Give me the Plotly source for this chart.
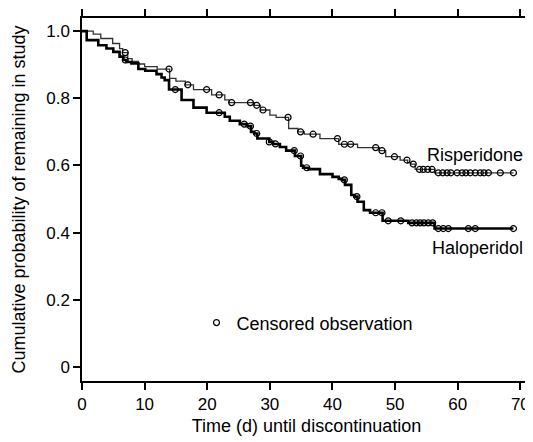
import numpy as np
import plotly.graph_objects as go

# Risperidone (thin) step curve: event times (d) and survival after each step
ris_times = [0, 1.8, 3.0, 4.9, 6.0, 6.5, 7.3, 8.0, 9.0, 10.0, 12.0, 14.0, 15.0, 16.5, 17.8,
             20.7, 22.8, 23.5, 27.5, 28.5, 30.0, 31.0, 33.0, 34.5, 35.5, 38.0, 41.0, 44.0,
             47.5, 48.5, 50.8, 52.0, 52.5, 53.2, 56.3]
ris_surv = [1.0, 0.991, 0.978, 0.963, 0.948, 0.936, 0.918, 0.910, 0.902, 0.894, 0.887, 0.859,
            0.851, 0.840, 0.826, 0.810, 0.795, 0.787, 0.779, 0.765, 0.750, 0.743, 0.710, 0.700,
            0.693, 0.680, 0.663, 0.653, 0.644, 0.626, 0.616, 0.608, 0.604, 0.588, 0.578]
ris_end = 68.9
ris_censored = [6.9, 13.9, 16.9, 19.9, 21.9, 23.9, 26.9, 27.9, 28.9, 32.9, 34.9, 36.9, 40.8,
                41.9, 42.9, 46.9, 47.9, 49.9, 51.9, 52.9, 53.9, 54.5, 55.2, 55.9, 56.9, 57.6,
                58.3, 58.9, 59.9, 60.7, 61.3, 62.0, 62.8, 63.6, 64.2, 64.9, 66.8, 68.9]

# Haloperidol (thick) step curve
hal_times = [0, 0.75, 2.6, 3.9, 5.0, 6.0, 6.6, 7.1, 7.9, 9.0, 10.1, 11.9, 12.7, 13.2, 13.9,
             15.9, 17.8, 19.9, 22.8, 23.6, 25.2, 26.3, 27.0, 27.5, 28.0, 29.9, 30.5, 31.6,
             32.6, 34.0, 35.0, 35.3, 36.2, 38.0, 40.0, 41.0, 41.5, 42.0, 43.0, 43.5, 44.0,
             45.0, 46.0, 48.0, 52.1, 56.3]
hal_surv = [1.0, 0.973, 0.958, 0.948, 0.938, 0.924, 0.914, 0.908, 0.904, 0.887, 0.882, 0.872,
            0.862, 0.854, 0.826, 0.795, 0.772, 0.757, 0.745, 0.733, 0.723, 0.717, 0.700, 0.695,
            0.680, 0.670, 0.664, 0.655, 0.644, 0.628, 0.599, 0.593, 0.589, 0.574, 0.566, 0.560,
            0.557, 0.542, 0.512, 0.507, 0.492, 0.467, 0.459, 0.435, 0.429, 0.412]
hal_end = 68.9
hal_censored = [6.9, 14.9, 21.9, 25.9, 26.9, 27.9, 29.9, 30.9, 33.9, 34.9, 35.9, 41.9, 43.9,
                46.9, 47.9, 48.9, 50.9, 52.7, 53.4, 54.0, 54.6, 55.3, 56.0, 56.9, 57.7, 58.5,
                61.7, 62.8, 68.9]

x_ticks = [0, 10, 20, 30, 40, 50, 60, 70]
y_ticks = [0, 0.2, 0.4, 0.6, 0.8, 1.0]
y_tick_labels = ["0", "0.2", "0.4", "0.6", "0.8", "1.0"]


def step_at(times, surv, t):
    idx = np.searchsorted(np.array(times), np.array(t), side="right") - 1
    return np.array(surv)[idx]


FONT = "Liberation Sans, Arial, Helvetica, sans-serif"
fig = go.Figure()

fig.add_trace(go.Scatter(x=ris_times + [ris_end], y=ris_surv + [ris_surv[-1]], mode="lines",
                         line=dict(shape="hv", color="#333333", width=1.3), showlegend=False))
fig.add_trace(go.Scatter(x=hal_times + [hal_end], y=hal_surv + [hal_surv[-1]], mode="lines",
                         line=dict(shape="hv", color="black", width=2.6), showlegend=False))
fig.add_trace(go.Scatter(x=ris_censored, y=step_at(ris_times, ris_surv, ris_censored), mode="markers",
                         marker=dict(symbol="circle-open", size=6, color="black", line=dict(width=1.2)),
                         name="Censored observation", showlegend=True))
fig.add_trace(go.Scatter(x=hal_censored, y=step_at(hal_times, hal_surv, hal_censored), mode="markers",
                         marker=dict(symbol="circle-open", size=6, color="black", line=dict(width=1.2)),
                         showlegend=False))

fig.add_annotation(x=70.8, y=0.631, xref="x", yref="y", text="Risperidone", showarrow=False,
                   xanchor="right", yanchor="middle", font=dict(size=18, color="black", family=FONT))
fig.add_annotation(x=70.8, y=0.354, xref="x", yref="y", text="Haloperidol", showarrow=False,
                   xanchor="right", yanchor="middle", font=dict(size=18, color="black", family=FONT))

axis_common = dict(showline=True, linecolor="black", linewidth=1.5, mirror="ticks", ticks="outside",
                   ticklen=7, tickwidth=1.5, tickcolor="black", showgrid=False, zeroline=False,
                   automargin=False, tickfont=dict(size=17, color="black", family=FONT))

fig.update_xaxes(range=[0, 71.7], tickvals=x_ticks,
                 title=dict(text="Time (d) until discontinuation", font=dict(size=18, color="black", family=FONT),
                            standoff=6), **axis_common)
fig.update_yaxes(range=[-0.042, 1.039], tickvals=y_ticks, ticktext=y_tick_labels,
                 title=dict(text="Cumulative probability of remaining in study",
                            font=dict(size=18, color="black", family=FONT), standoff=16), **axis_common)

# page body has an 8px margin, so the figure is sized/margined to land the plot box
# at the reference's pixel positions
fig.update_layout(width=525, height=434, margin=dict(l=74, r=2, t=10, b=61),
                  plot_bgcolor="white", paper_bgcolor="white",
                  font=dict(family=FONT, color="black"),
                  legend=dict(x=0.255, y=0.16, xanchor="left", yanchor="middle", bgcolor="rgba(0,0,0,0)",
                              font=dict(size=18, color="black", family=FONT), itemwidth=30))

fig.write_html("out.html")
